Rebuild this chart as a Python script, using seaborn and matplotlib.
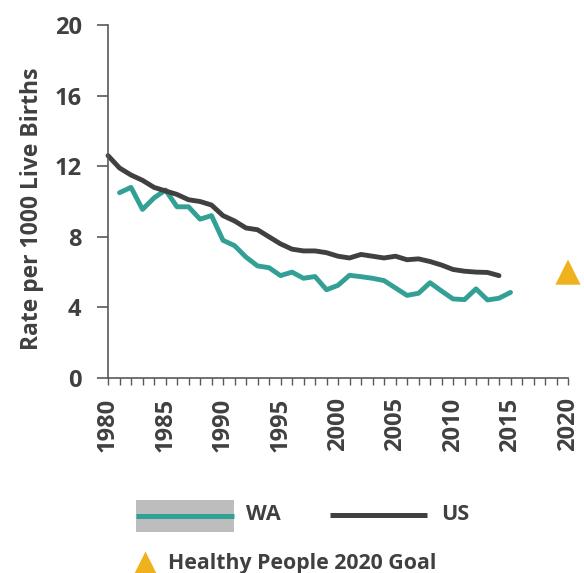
import matplotlib
matplotlib.use("Agg")
import matplotlib.pyplot as plt
from matplotlib.patches import Rectangle
from matplotlib.lines import Line2D
import seaborn as sns
import pandas as pd
import numpy as np

us_years = list(range(1980, 2015))
us_rate = [12.6, 11.9, 11.5, 11.2, 10.8, 10.6, 10.4, 10.1, 10.0, 9.8,
           9.2, 8.9, 8.5, 8.4, 8.0, 7.6, 7.3, 7.2, 7.2, 7.1,
           6.9, 6.8, 7.0, 6.9, 6.8, 6.9, 6.7, 6.75, 6.6, 6.4,
           6.15, 6.05, 6.0, 5.98, 5.8]
wa_years = list(range(1981, 2016))
wa_rate = [10.5, 10.8, 9.55, 10.2, 10.65, 9.7, 9.7, 9.0, 9.2, 7.8,
           7.5, 6.85, 6.35, 6.25, 5.8, 6.0, 5.65, 5.75, 5.0, 5.25,
           5.82, 5.74, 5.65, 5.52, 5.1, 4.68, 4.8, 5.4, 4.93, 4.48,
           4.44, 5.05, 4.42, 4.52, 4.85]
goal_year = [2020]
goal_rate = [6.0]

x_ticks = list(range(1980, 2021, 5))
y_ticks = [0, 4, 8, 12, 16, 20]

TEAL = "#33a096"
DARK = "#404040"
GOLD = "#efb21e"
GREY = "#bdbdbd"

sns.set_style("white")
plt.rcParams['font.family'] = ['Open Sans', 'DejaVu Sans']
plt.rcParams['font.weight'] = 'bold'

W, H = 584, 573
fig = plt.figure(figsize=(W / 100, H / 100), dpi=100)
ax = fig.add_axes([108 / W, 1 - 378 / H, (568 - 108) / W, (378 - 25) / H])

df = pd.concat([
    pd.DataFrame({"Year": wa_years, "Rate": wa_rate, "Area": "WA"}),
    pd.DataFrame({"Year": us_years, "Rate": us_rate, "Area": "US"}),
])
sns.lineplot(data=df, x="Year", y="Rate", hue="Area",
             palette={"WA": TEAL, "US": DARK}, linewidth=3.5,
             legend=False, ax=ax, clip_on=False)
sns.scatterplot(x=goal_year, y=goal_rate, marker="^", s=330, color=GOLD,
                edgecolor="none", ax=ax, clip_on=False, zorder=5)

ax.set_xlim(1980, 2020)
ax.set_ylim(0, 20)
ax.set_xticks(x_ticks)
ax.set_xticks(range(1980, 2021), minor=True)
ax.set_yticks(y_ticks)
ax.set_xticklabels([str(t) for t in x_ticks], rotation=90)
for s in ["top", "right"]:
    ax.spines[s].set_visible(False)
for s in ["left", "bottom"]:
    ax.spines[s].set_color("#595959")
    ax.spines[s].set_linewidth(1.2)
ax.tick_params(axis="y", which="major", direction="out", length=8, width=1.2,
               color="#595959", labelsize=17, labelcolor=DARK, pad=11, left=True)
ax.tick_params(axis="x", which="both", direction="out", length=5, width=1.0,
               color="#595959", labelsize=17, labelcolor=DARK, pad=9, bottom=True)
for lab in ax.get_xticklabels() + ax.get_yticklabels():
    lab.set_fontweight("bold")
ax.set_xlabel("")
ax.set_ylabel("Rate per 1000 Live Births", fontsize=16.5, fontweight="bold",
              color=DARK, labelpad=6)
ax.yaxis.set_label_coords(-0.14, 0.48)


def fx(px):
    return px / W


def fy(py):
    return 1 - py / H


# custom legend
fig.add_artist(Rectangle((fx(136), fy(532)), fx(234) - fx(136), fy(500) - fy(532),
                         transform=fig.transFigure, facecolor=GREY, edgecolor="none"))
fig.add_artist(Line2D([fx(136), fx(234)], [fy(516), fy(516)], transform=fig.transFigure,
                      color=TEAL, linewidth=3.6, solid_capstyle="butt"))
fig.text(fx(246), fy(514), "WA", fontsize=15.5, fontweight="bold", color=DARK,
         va="center", ha="left")
fig.add_artist(Line2D([fx(330), fx(427)], [fy(515), fy(515)], transform=fig.transFigure,
                      color=DARK, linewidth=3.6, solid_capstyle="butt"))
fig.text(fx(441), fy(514), "US", fontsize=15.5, fontweight="bold", color=DARK,
         va="center", ha="left")
fig.add_artist(Line2D([fx(145)], [fy(563)], transform=fig.transFigure, marker="^",
                      markersize=17, color=GOLD, markeredgecolor="none", linestyle="none"))
fig.text(fx(168), fy(563), "Healthy People 2020 Goal", fontsize=15.3, fontweight="bold",
         color=DARK, va="center", ha="left")

fig.savefig("out.png", dpi=100)
